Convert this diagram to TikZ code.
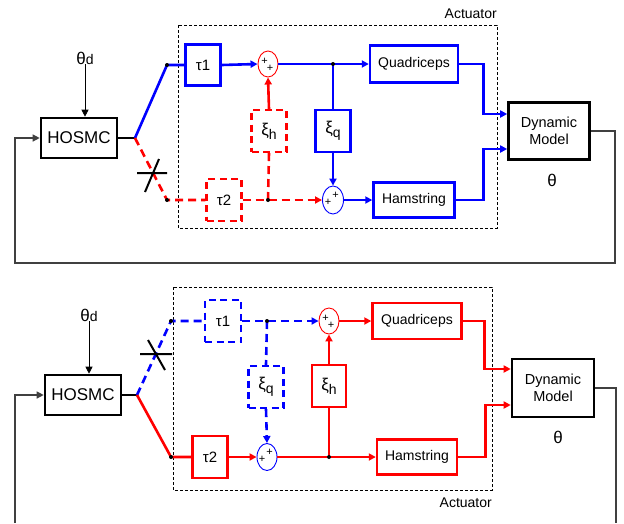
\documentclass[tikz,border=0pt]{standalone}
\usepackage{fontspec}
\setmainfont{Liberation Sans}
\usetikzlibrary{arrows.meta,shapes.geometric}

\tikzset{
    box/.style={draw, line width=2.4pt, fill=white, inner sep=0pt, align=center, font=\fontsize{14}{16}\selectfont},
    dbox/.style={box, dash pattern=on 7pt off 4.5pt},
    plant/.style={box, line width=2.6pt, font=\fontsize{14.5}{17}\selectfont},
    sumnode/.style={draw, ellipse, line width=0.9pt, fill=white, inner sep=0pt, minimum width=20pt, minimum height=26pt},
    plus/.style={inner sep=0pt, font=\fontsize{11}{11}\selectfont},
    link/.style={line width=2.6pt},
    dlink/.style={link, dash pattern=on 8pt off 5pt},
    tip/.style={-{Triangle[length=7pt,width=7pt]}},
    fb/.style={line width=1.2pt, black!75},
    lbl/.style={inner sep=0pt, font=\fontsize{14}{16}\selectfont},
}
\newcommand{\junction}[1]{\fill[black] (#1) circle (2pt);}
\newcommand{\gain}[2]{{\fontsize{17}{17}\selectfont #1}\raisebox{-4pt}{#2}}

\begin{document}
\begin{tikzpicture}[x=1pt, y=-1pt]
    \useasboundingbox (0,0) rectangle (624,523);

    % upper loop: quadriceps chain active
    \draw[black, dash pattern=on 3pt off 2pt, line width=0.7pt] (178,25) rectangle (497,228);
    \node[lbl, anchor=east] (actA) at (497,14) {Actuator};

    \node[box, line width=2.6pt, minimum width=76pt, minimum height=40pt, font=\fontsize{17}{19}\selectfont] (hosmcA) at (79,138) {HOSMC};
    \node[lbl] (thetadA) at (85,58) {{\fontsize{17}{17}\selectfont θ}d};
    \draw[fb, black, line width=0.8pt, tip] (thetadA.south) -- (thetadA.south |- hosmcA.north);

    \node[box, draw=blue, minimum width=35pt, minimum height=41pt, font=\fontsize{15}{17}\selectfont] (tau1A) at (203,65) {τ1};
    \node[dbox, draw=red, minimum width=35pt, minimum height=42pt, font=\fontsize{15}{17}\selectfont] (tau2A) at (224,200) {τ2};
    \node[dbox, draw=red, minimum width=35pt, minimum height=42pt] (xihA) at (269,131) {\gain{ξ}{h}};
    \node[box, draw=blue, minimum width=35pt, minimum height=42pt] (xiqA) at (333,131) {\gain{ξ}{q}};
    \node[sumnode, draw=red] (sumQA) at (268,64) {};
    \node[plus] (sumQAa) at ([xshift=-3.5pt, yshift=3pt]sumQA.center) {+};
    \node[plus] (sumQAb) at ([xshift=2pt, yshift=-4pt]sumQA.center) {+};
    \node[sumnode, draw=blue, minimum width=21pt, minimum height=28pt] (sumHA) at (333,200) {};
    \node[plus] (sumHAa) at ([xshift=2.5pt, yshift=5pt]sumHA.center) {+};
    \node[plus] (sumHAb) at ([xshift=-5pt, yshift=-2pt]sumHA.center) {+};
    \node[box, draw=blue, minimum width=88pt, minimum height=37pt] (quadA) at (414,64) {Quadriceps};
    \node[box, draw=blue, minimum width=81pt, minimum height=35pt] (hamA) at (414,200) {Hamstring};
    \node[plant, minimum width=81pt, minimum height=57pt] (dynA) at (549,131) {Dynamic\\Model};
    \node[lbl, font=\fontsize{17}{17}\selectfont] (thetaA) at (552,180) {θ};

    \coordinate (brA) at (135,138);
    \coordinate (upA) at (167,65);
    \coordinate (dnA) at (167,200);
    \coordinate (jqA) at (333,64);
    \coordinate (jhA) at (268,200);

    \draw[link, black] (hosmcA.east) -- (brA);
    \draw[link, blue] (brA) -- (upA) -- (tau1A.west);
    \draw[link, blue, tip] (tau1A.east) -- (sumQA.west);
    \draw[link, blue, tip] (sumQA.east) -- (quadA.west);
    \draw[link, blue] (jqA) -- (xiqA.north);
    \draw[link, blue, tip] (xiqA.south) -- (sumHA.north);
    \draw[link, blue, tip] (sumHA.east) -- (hamA.west);
    \draw[dlink, red] (brA) -- (dnA) -- (tau2A.west);
    \draw[dlink, red, tip] (tau2A.east) -- (sumHA.west);
    \draw[dlink, red] (jhA) -- (xihA.south);
    \draw[link, red, tip] (xihA.north) -- (sumQA.south);
    \draw[link, blue, tip] (quadA.east) -- ++(24,0) |- ([yshift=17pt]dynA.west);
    \draw[link, blue, tip] (hamA.east) -- ++(27.5,0) |- ([yshift=-18pt]dynA.west);
    \junction{upA} \junction{dnA} \junction{jqA} \junction{jhA}

    \draw[black, line width=2pt] (137,173) -- (167,173)
                                 (145,192) -- (159,159);

    \coordinate (fbA1) at (615,263);
    \coordinate (fbA2) at (15,263);
    \draw[fb, tip] (dynA.east) -- (dynA.east -| fbA1) -- (fbA1) -- (fbA2) -- (fbA2 |- hosmcA.west) -- (hosmcA.west);

    % lower loop: hamstring chain active
    \draw[black, dash pattern=on 3pt off 2pt, line width=0.7pt] (173,287) rectangle (492,490);
    \node[lbl, anchor=east] (actB) at (492,503) {Actuator};

    \node[box, line width=2.6pt, minimum width=76pt, minimum height=40pt, font=\fontsize{17}{19}\selectfont] (hosmcB) at (83,395) {HOSMC};
    \node[lbl] (thetadB) at (89,315) {{\fontsize{17}{17}\selectfont θ}d};
    \draw[fb, black, line width=0.8pt, tip] (thetadB.south) -- (thetadB.south |- hosmcB.north);

    \node[dbox, draw=blue, minimum width=36pt, minimum height=42pt, font=\fontsize{15}{17}\selectfont] (tau1B) at (223,321) {τ1};
    \node[box, draw=red, minimum width=35pt, minimum height=42pt, font=\fontsize{15}{17}\selectfont] (tau2B) at (210,457) {τ2};
    \node[dbox, draw=blue, minimum width=35pt, minimum height=42pt] (xiqB) at (266,387) {\gain{ξ}{q}};
    \node[box, draw=red, minimum width=34pt, minimum height=42pt] (xihB) at (329,386) {\gain{ξ}{h}};
    \node[sumnode, draw=red] (sumQB) at (329,321) {};
    \node[plus] (sumQBa) at ([xshift=-3.5pt, yshift=3pt]sumQB.center) {+};
    \node[plus] (sumQBb) at ([xshift=2pt, yshift=-4pt]sumQB.center) {+};
    \node[sumnode, draw=blue, minimum width=20pt, minimum height=27pt] (sumHB) at (267,457) {};
    \node[plus] (sumHBa) at ([xshift=2.5pt, yshift=5pt]sumHB.center) {+};
    \node[plus] (sumHBb) at ([xshift=-5pt, yshift=-2pt]sumHB.center) {+};
    \node[box, draw=red, minimum width=89pt, minimum height=36pt] (quadB) at (417,321) {Quadriceps};
    \node[box, draw=red, minimum width=80pt, minimum height=35pt] (hamB) at (417,457) {Hamstring};
    \node[plant, minimum width=82pt, minimum height=58pt] (dynB) at (553,388) {Dynamic\\Model};
    \node[lbl, font=\fontsize{17}{17}\selectfont] (thetaB) at (558,437) {θ};

    \coordinate (brB) at (137,395);
    \coordinate (upB) at (171,321);
    \coordinate (dnB) at (171,457);
    \coordinate (jqB) at (267,321);
    \coordinate (jhB) at (329,457);

    \draw[link, black] (hosmcB.east) -- (brB);
    \draw[dlink, blue] (brB) -- (upB) -- (tau1B.west);
    \draw[dlink, blue, tip] (tau1B.east) -- (sumQB.west);
    \draw[dlink, blue] (jqB) -- (xiqB.north);
    \draw[dlink, blue, tip] (xiqB.south) -- (sumHB.north);
    \draw[link, red] (brB) -- (dnB) -- (tau2B.west);
    \draw[link, red, tip] (tau2B.east) -- (sumHB.west);
    \draw[link, red, tip] (sumHB.east) -- (hamB.west);
    \draw[link, red] (jhB) -- (xihB.south);
    \draw[link, red, tip] (xihB.north) -- (sumQB.south);
    \draw[link, red, tip] (sumQB.east) -- (quadB.west);
    \draw[link, red, tip] (quadB.east) -- ++(22,0) |- ([yshift=19pt]dynB.west);
    \draw[link, red, tip] (hamB.east) -- ++(27,0) |- ([yshift=-17pt]dynB.west);
    \junction{upB} \junction{dnB} \junction{jqB} \junction{jhB}

    \draw[black, line width=2pt] (140,354) -- (172,354)
                                 (148,340) -- (165,370);

    \coordinate (fbB1) at (616,523);
    \coordinate (fbB2) at (15,523);
    \draw[fb] (dynB.east) -- (dynB.east -| fbB1) -- (fbB1);
    \draw[fb, tip] (fbB2) -- (fbB2 |- hosmcB.west) -- (hosmcB.west);
\end{tikzpicture}
\end{document}
